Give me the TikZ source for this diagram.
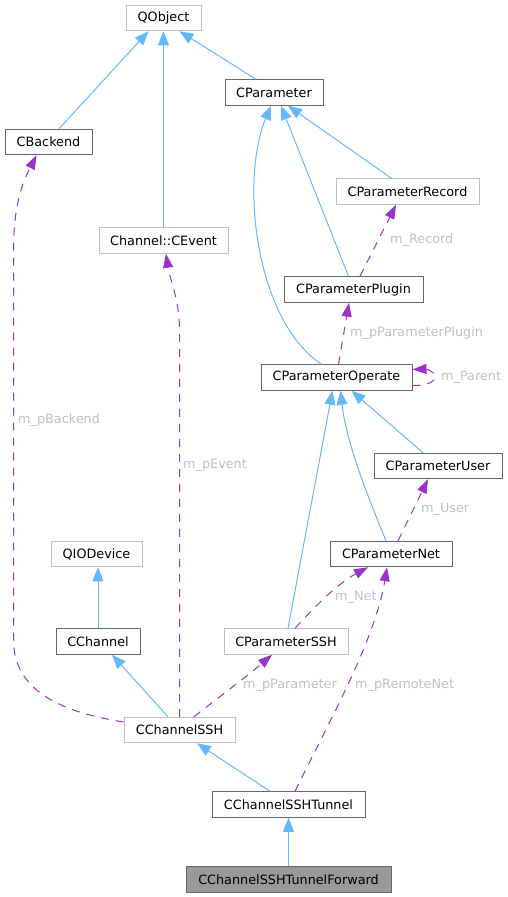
\documentclass[tikz,border=0pt]{standalone}
\usepackage{fontspec}
\setmainfont{DejaVu Sans}
\usetikzlibrary{arrows.meta,calc}
\definecolor{inhblue}{HTML}{63B8FF}
\definecolor{relpurple}{HTML}{9A32CD}
\definecolor{docgray}{HTML}{666666}
\definecolor{undocgray}{HTML}{BFBFBF}
\definecolor{lblgray}{HTML}{C0C0C0}
\definecolor{mainfill}{HTML}{999999}
\begin{document}
\begin{tikzpicture}[x=1pt,y=-1pt,
  font=\fontsize{12.8}{15}\selectfont,
  cls/.style={draw=docgray,line width=1pt,fill=white,minimum height=25.5pt,inner sep=0pt,text=black},
  ucls/.style={draw=undocgray,line width=1pt,fill=white,minimum height=25.5pt,inner sep=0pt,text=black},
  maincls/.style={draw=docgray,line width=1pt,fill=mainfill,minimum height=25.5pt,inner sep=0pt,text=black},
  inh/.style={draw=inhblue,line width=1pt,-{Triangle[length=14pt,width=11pt,fill=inhblue]}},
  rel/.style={draw=relpurple,line width=1pt,dash pattern=on 8pt off 7pt,-{Triangle[length=14pt,width=10pt,fill=relpurple]}},
  lbl/.style={text=lblgray,anchor=west,inner sep=0pt}]
\useasboundingbox (0,0) rectangle (507,897);

% nodes
\node[ucls,minimum width=75pt] (qobject) at (163.5,18) {QObject};
\node[cls,minimum width=98pt] (cparam) at (274,92.5) {CParameter};
\node[cls,minimum width=87pt] (cbackend) at (48.5,142) {CBackend};
\node[ucls,minimum width=143pt] (crecord) at (407.5,191.5) {CParameterRecord};
\node[ucls,minimum width=129pt] (cevent) at (163.5,240.5) {Channel::CEvent};
\node[cls,minimum width=139pt] (cplugin) at (353.5,289.5) {CParameterPlugin};
\node[cls,minimum width=151pt] (coperate) at (336.5,377.5) {CParameterOperate};
\node[cls,minimum width=128pt] (cuser) at (438,466) {CParameterUser};
\node[ucls,minimum width=91pt] (qiodevice) at (96.5,554) {QIODevice};
\node[cls,minimum width=122pt] (cnet) at (391,554) {CParameterNet};
\node[cls,minimum width=84pt] (cchannel) at (98,641.5) {CChannel};
\node[ucls,minimum width=124pt] (cssh) at (286,641.5) {CParameterSSH};
\node[ucls,minimum width=111pt] (chssh) at (179.5,730) {CChannelSSH};
\node[cls,minimum width=153pt] (tunnel) at (288.5,804.5) {CChannelSSHTunnel};
\node[maincls,minimum width=205pt] (forward) at (288.5,879.5) {CChannelSSHTunnelForward};

% inheritance
\draw[inh] ([xshift=10.5pt]cbackend.north) -- ([xshift=-15pt]qobject.south);
\draw[inh] (cevent.north) -- (qobject.south);
\draw[inh] ([xshift=-18pt]cparam.north) -- ([xshift=16pt]qobject.south);
\draw[inh] ([xshift=-16pt]crecord.north) -- ([xshift=14pt]cparam.south);
\draw[inh] ([xshift=-5pt]cplugin.north) -- ([xshift=7pt]cparam.south);
\draw[inh] ([xshift=-15pt]coperate.north) .. controls (255,320) and (240,180) .. ([xshift=-3pt]cparam.south);
\draw[inh] ([xshift=-15pt]cuser.north) -- ([xshift=15pt]coperate.south);
\draw[inh] ([xshift=-5pt]cnet.north) .. controls (365,490) and (346,440) .. ([xshift=4pt]coperate.south);
\draw[inh] ([xshift=2pt]cssh.north) -- ([xshift=-4pt]coperate.south);
\draw[inh] (cchannel.north) -- (cchannel.north |- qiodevice.south);
\draw[inh] ([xshift=-11.5pt]chssh.north) -- ([xshift=14pt]cchannel.south);
\draw[inh] ([xshift=-18.5pt]tunnel.north) -- ([xshift=17.5pt]chssh.south);
\draw[inh] (forward.north) -- (tunnel.south);

% relations
\draw[rel] ([yshift=8pt]chssh.west) .. controls (60,712) and (13.5,690) .. (13.5,640)
  -- (13.5,250) .. controls (13.5,200) and (25,178) .. ([xshift=-12pt]cbackend.south);
\node[lbl] (lbackend) at (18,420) {m\_pBackend};

\draw[rel] (chssh.north) -- (179.5,330) .. controls (179.5,300) and (170,280) .. ([xshift=2.5pt]cevent.south);
\node[lbl] (levent) at (183,465) {m\_pEvent};

\draw[rel] ([xshift=14.5pt]chssh.north) .. controls (215,700) and (245,678) .. ([xshift=-14pt]cssh.south);
\node[lbl] (lparameter) at (243,685) {m\_pParameter};

\draw[rel] ([xshift=6.5pt]tunnel.north) .. controls (330,720) and (375,640) .. ([xshift=-4pt]cnet.south);
\node[lbl] (lremote) at (355,685) {m\_pRemoteNet};

\draw[rel] ([xshift=9pt]cssh.north) .. controls (310,612) and (335,585) .. ([xshift=-23pt]cnet.south);
\node[lbl] (lnet) at (335,597) {m\_Net};

\draw[rel] ([xshift=7pt]cnet.north) -- ([xshift=-10pt]cuser.south);
\node[lbl] (luser) at (421,509) {m\_User};

\draw[rel] ([xshift=2pt]coperate.north) -- ([xshift=-4.5pt]cplugin.south);
\node[lbl] (lplugin) at (350,333) {m\_pParameterPlugin};

\draw[rel] ([xshift=6.5pt]cplugin.north) -- ([xshift=-11.5pt]crecord.south);
\node[lbl] (lrecord) at (390,240) {m\_Record};

\draw[rel] ([yshift=-8pt]coperate.east) .. controls (428,386) and (436,381) .. (435,376)
  .. controls (434,371) and (426,369) .. ([yshift=8pt]coperate.east);
\node[lbl] (lparent) at (441,377) {m\_Parent};
\end{tikzpicture}
\end{document}
